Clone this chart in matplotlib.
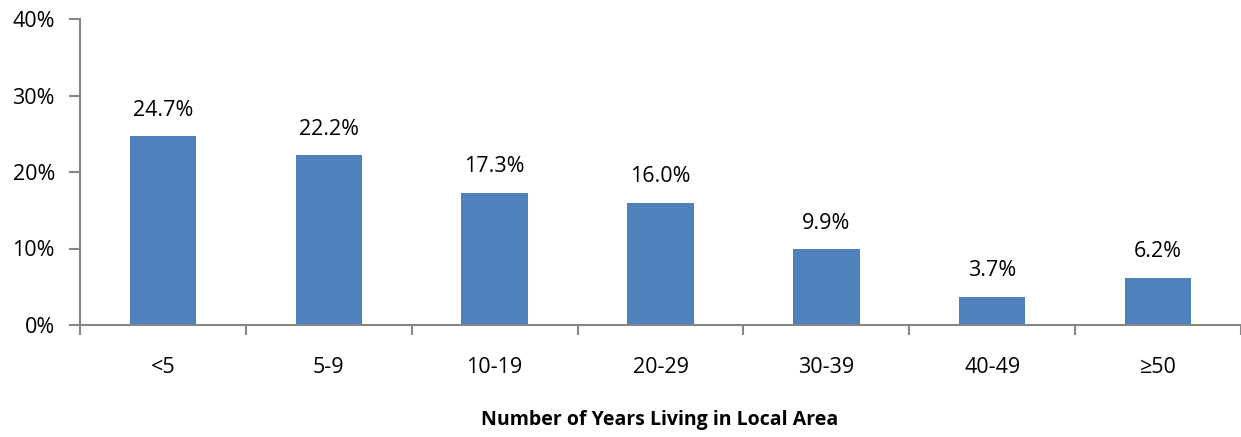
import matplotlib
matplotlib.use("Agg")
import matplotlib.pyplot as plt
from matplotlib.ticker import PercentFormatter

plt.rcParams['font.family'] = ['Open Sans', 'DejaVu Sans']

# data
categories = ["<5", "5-9", "10-19", "20-29", "30-39", "40-49", "≥50"]
shares = [24.7, 22.2, 17.3, 16.0, 9.9, 3.7, 6.2]

fig = plt.figure(figsize=(12.41, 4.37), dpi=100)
ax = fig.add_axes([80 / 1241, 112 / 437, 1161 / 1241, 306 / 437])

x = range(len(categories))
bars = ax.bar(x, shares, width=0.4, color="#4F81BD")
for b, v in zip(bars, shares):
    ax.text(b.get_x() + b.get_width() / 2, v + 2.0, f"{v:.1f}%",
            ha="center", va="bottom", fontsize=15.5)

ax.set_xlim(-0.5, len(categories) - 0.5)
ax.set_ylim(0, 40)
ax.set_yticks([0, 10, 20, 30, 40])
ax.yaxis.set_major_formatter(PercentFormatter(decimals=0))

ax.set_xticks([i + 0.5 for i in range(-1, len(categories))])
ax.set_xticklabels([])
ax.set_xticks(list(x), minor=True)
ax.set_xticklabels(categories, minor=True)
ax.tick_params(axis="x", which="minor", length=0, pad=23, labelsize=15.5)
ax.tick_params(axis="x", which="major", length=7, width=1.5, color="#868686")
ax.tick_params(axis="y", length=8, width=1.5, color="#868686", labelsize=15.5, pad=10)

for side in ("top", "right"):
    ax.spines[side].set_visible(False)
for side in ("left", "bottom"):
    ax.spines[side].set_color("#868686")
    ax.spines[side].set_linewidth(1.5)

# x title placed on the figure so it sits where the reference has it
fig.text(660 / 1241, 1 - 420 / 437, "Number of Years Living in Local Area",
         ha="center", va="center", fontsize=14, fontweight="bold")

fig.savefig("out.png", dpi=100)
